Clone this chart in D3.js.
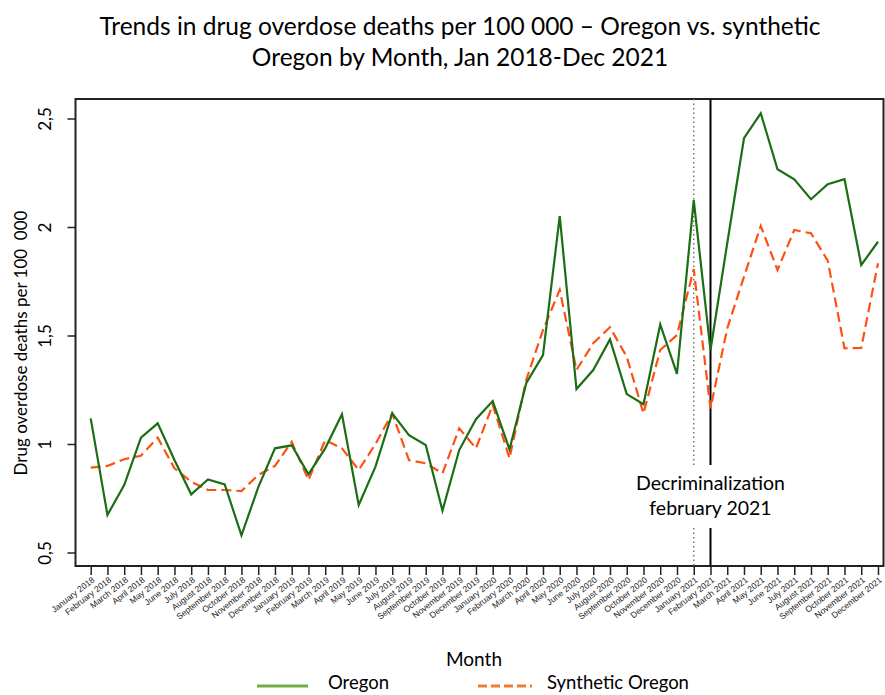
<!DOCTYPE html>
<html><head><meta charset="utf-8">
<script src="https://cdn.jsdelivr.net/npm/d3@7"></script>
<style>body{margin:0;background:#fff}svg{display:block}</style>
</head><body>
<svg id="c" width="885" height="695"></svg>
<script>
const months = ["January","February","March","April","May","June","July","August","September","October","November","December"];
const years = [2018, 2019, 2020, 2021];
const categories = years.flatMap(y => months.map(m => m + " " + y));
const oregon = [1.118,0.673,0.811,1.029,1.095,0.926,0.768,0.837,0.814,0.579,0.80,0.98,
  0.994,0.86,0.98,1.137,0.719,0.896,1.141,1.041,0.995,0.693,0.972,1.114,
  1.198,0.975,1.28,1.41,2.05,1.253,1.341,1.482,1.23,1.183,1.551,1.323,
  2.124,1.433,1.925,2.409,2.524,2.266,2.22,2.128,2.197,2.22,1.825,1.932];
const synthetic = [0.891,0.899,0.93,0.946,1.029,0.888,0.826,0.788,0.788,0.783,0.857,0.899,
  1.01,0.834,1.018,0.98,0.88,1.0,1.141,0.926,0.911,0.865,1.072,0.98,
  1.18,0.934,1.295,1.525,1.71,1.341,1.464,1.538,1.402,1.141,1.433,1.502,
  1.806,1.164,1.533,1.771,2.005,1.802,1.986,1.971,1.845,1.441,1.443,1.833];
const yTicks = [0.5, 1, 1.5, 2, 2.5];
const title = ["Trends in drug overdose deaths per 100 000 \u2013 Oregon vs. synthetic", "Oregon by Month, Jan 2018-Dec 2021"];
const interventionMonth = "February 2021";
const preMonth = "January 2021";

const svg = d3.select("#c");
const font = "Lato, 'Open Sans', sans-serif";
const L = 75.5, R = 883.5, T = 99, B = 566;

const x = d3.scalePoint().domain(categories).range([90.7, 878]);
const y = d3.scaleLinear().domain([1 - 122/217, 1 + 345/217]).range([B, T]);

// title
svg.append("g").selectAll("text").data(title).join("text")
  .attr("x", 460).attr("y", (d,i) => 35 + i*31)
  .attr("text-anchor", "middle").attr("font-family", font).attr("font-size", 24.5)
  .attr("fill", "#000").text(d => d);

// frame
svg.append("rect").attr("x", L).attr("y", T).attr("width", R - L).attr("height", B - T)
  .attr("fill", "none").attr("stroke", "#222").attr("stroke-width", 2);

// y axis
const yAxis = svg.append("g").attr("transform", `translate(${L},0)`)
  .call(d3.axisLeft(y).tickValues(yTicks).tickSize(8).tickFormat(d => String(d).replace(".", ",")));
yAxis.select(".domain").remove();
yAxis.selectAll(".tick line").attr("stroke", "#222").attr("stroke-width", 1.5);
yAxis.selectAll(".tick text")
  .attr("font-family", font).attr("font-size", 17).attr("fill", "#000")
  .attr("text-anchor", "middle").attr("x", 0).attr("y", 0).attr("dy", 0)
  .attr("transform", "translate(-25,0) rotate(-90)");

// y label
svg.append("text").attr("transform", `translate(27,${343}) rotate(-90)`)
  .attr("text-anchor", "middle").attr("font-family", font).attr("font-size", 17)
  .text("Drug overdose deaths per 100\u00a0\u00a0000");

// x axis
const xAxis = svg.append("g").attr("transform", `translate(0,${B})`)
  .call(d3.axisBottom(x).tickSize(9).tickSizeOuter(0));
xAxis.select(".domain").remove();
xAxis.selectAll(".tick line").attr("stroke", "#222").attr("stroke-width", 1.5);
xAxis.selectAll(".tick text")
  .attr("font-family", "'Liberation Sans', Arial, sans-serif").attr("font-size", 8.6).attr("fill", "#222")
  .attr("text-anchor", "end").attr("dy", 0).attr("y", 0)
  .attr("transform", "translate(4,15) rotate(-38)");

// x label
svg.append("text").attr("x", 474).attr("y", 666).attr("text-anchor", "middle")
  .attr("font-family", font).attr("font-size", 19).text("Month");

// vertical lines
const xi = x(interventionMonth), xp = x(preMonth);
[[T, 465], [528, B]].forEach(([a, b]) => {
  svg.append("line").attr("x1", xp).attr("x2", xp).attr("y1", a).attr("y2", b)
    .attr("stroke", "#777").attr("stroke-width", 1.5).attr("stroke-dasharray", "1.5,3");
  svg.append("line").attr("x1", xi).attr("x2", xi).attr("y1", a).attr("y2", b)
    .attr("stroke", "#000").attr("stroke-width", 2);
});
svg.append("text").attr("x", xi).attr("y", 490).attr("text-anchor", "middle")
  .attr("font-family", font).attr("font-size", 19.5).text("Decriminalization");
svg.append("text").attr("x", xi).attr("y", 515).attr("text-anchor", "middle")
  .attr("font-family", font).attr("font-size", 19.5).text("february 2021");

// lines
const line = d3.line().x((d,i) => x(categories[i])).y(d => y(d));
svg.append("path").datum(synthetic).attr("d", line).attr("fill", "none")
  .attr("stroke", "#ff5014").attr("stroke-width", 2.2).attr("stroke-dasharray", "10,5");
svg.append("path").datum(oregon).attr("d", line).attr("fill", "none")
  .attr("stroke", "#1b6e14").attr("stroke-width", 2.2);

// legend
const lg = svg.append("g");
lg.append("line").attr("x1", 257).attr("x2", 308).attr("y1", 686).attr("y2", 686)
  .attr("stroke", "#70ad47").attr("stroke-width", 3);
lg.append("text").attr("x", 328).attr("y", 689).attr("font-family", font).attr("font-size", 18.5).text("Oregon");
lg.append("line").attr("x1", 478).attr("x2", 532).attr("y1", 686).attr("y2", 686)
  .attr("stroke", "#ed7d31").attr("stroke-width", 3).attr("stroke-dasharray", "9,4");
lg.append("text").attr("x", 547).attr("y", 689).attr("font-family", font).attr("font-size", 18.5).text("Synthetic Oregon");
</script>
</body></html>
